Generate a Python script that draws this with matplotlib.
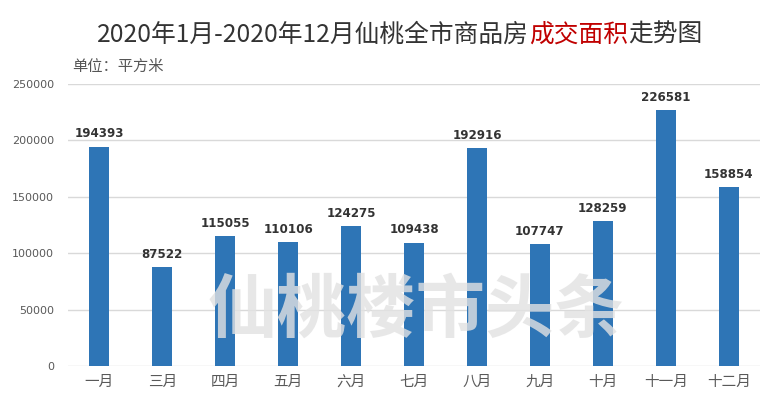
import matplotlib
matplotlib.use('Agg')
import matplotlib.pyplot as plt

plt.rcParams['font.family'] = ['Noto Sans CJK SC', 'DejaVu Sans']

# data
months = ['一月', '三月', '四月', '五月', '六月', '七月', '八月', '九月', '十月', '十一月', '十二月']
area = [194393, 87522, 115055, 110106, 124275, 109438, 192916, 107747, 128259, 226581, 158854]
yticks = [0, 50000, 100000, 150000, 200000, 250000]

fig = plt.figure(figsize=(7.71, 4.05), dpi=100)
ax = fig.add_axes([0.088, 0.096, 0.898, 0.697])

x = range(len(months))
ax.bar(x, area, width=0.32, color='#2e75b6', zorder=2)
for i, v in zip(x, area):
    ax.text(i, v + 5500, str(v), ha='center', va='bottom', fontsize=8.6,
            fontweight='bold', color='#333333', family='DejaVu Sans')

ax.set_xlim(-0.5, len(months) - 0.5)
ax.set_ylim(0, 250000)
ax.set_yticks(yticks)
ax.set_yticklabels([str(t) for t in yticks], fontsize=8, color='#595959', family='DejaVu Sans')
ax.set_xticks(list(x))
ax.set_xticklabels(months, fontsize=10.5, color='#595959')
ax.tick_params(length=0, pad=6)
ax.tick_params(axis='y', pad=10)
ax.grid(axis='y', color='#d9d9d9', linewidth=1, zorder=0)
for s in ax.spines.values():
    s.set_visible(False)

# watermark
fig.text(0.54, 0.23, '仙桃楼市头条', ha='center', va='center', fontsize=50,
         fontweight='bold', color='#e2e2e2', alpha=0.8, zorder=5)

# title with red part
parts = [('2020年1月-2020年12月仙桃全市商品房', '#333333'), ('成交面积', '#c00000'), ('走势图', '#333333')]
fig.canvas.draw()
r = fig.canvas.get_renderer()
texts = []
for s, c in parts:
    t = fig.text(0, 0.915, s, fontsize=17.8, color=c, va='center', ha='left')
    texts.append(t)
widths = [t.get_window_extent(r).width / fig.bbox.width for t in texts]
xpos = 0.518 - sum(widths) / 2
for t, w in zip(texts, widths):
    t.set_x(xpos)
    xpos += w

fig.text(0.094, 0.835, '单位：平方米', fontsize=11, color='#555555', va='center')

fig.savefig('out.png', dpi=100)
